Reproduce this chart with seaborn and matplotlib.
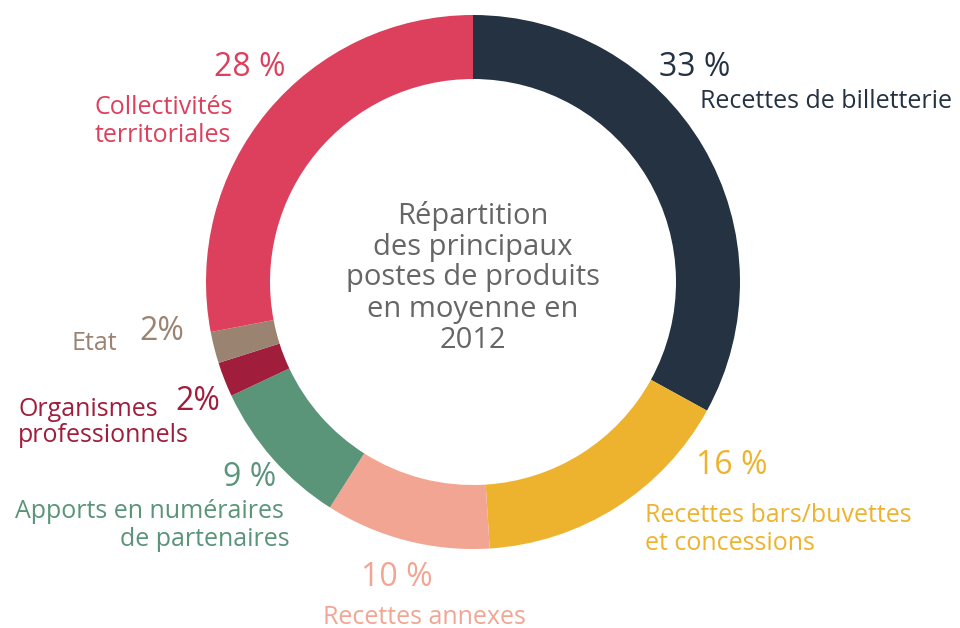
import matplotlib
matplotlib.use("Agg")
import matplotlib.pyplot as plt
import seaborn as sns

sns.set_theme(style="white")
plt.rcParams['font.family'] = ['Open Sans', 'DejaVu Sans']

categories = ["Recettes de billetterie", "Recettes bars/buvettes et concessions",
              "Recettes annexes", "Apports en numéraires de partenaires",
              "Organismes professionnels", "Etat", "Collectivités territoriales"]
values = [33, 16, 10, 9, 2.1, 1.9, 28]
pct_labels = ["33 %", "16 %", "10 %", "9 %", "2%", "2%", "28 %"]
colors = ["#243242", "#EEB32E", "#F2A593", "#5A9479", "#A01D3C", "#9A8370", "#DC405C"]
palette = sns.color_palette(colors)

fig = plt.figure(figsize=(9.6, 6.28), dpi=100)
ax = fig.add_axes([0, 0, 1, 1])
ax.set_xlim(0, 960)
ax.set_ylim(628, 0)
ax.axis("off")

pax = fig.add_axes([0, 0, 1, 1])
cx, cy, R = 473, 628 - 282, 267
pax.pie(values, colors=palette, startangle=90, counterclock=False,
        center=(cx, cy), radius=R, frame=True,
        wedgeprops=dict(width=64, edgecolor="none", linewidth=0))
pax.set_xlim(0, 960)
pax.set_ylim(0, 628)
pax.set_aspect("equal")
pax.axis("off")

pct_fs = 23
lab_fs = 18

ax.text(695, 68, pct_labels[0], color=colors[0], fontsize=pct_fs, ha="center", va="center")
ax.text(700, 102, "Recettes de billetterie", color=colors[0], fontsize=lab_fs, ha="left", va="center")

ax.text(732, 466, pct_labels[1], color=colors[1], fontsize=pct_fs, ha="center", va="center")
ax.text(645, 515, "Recettes bars/buvettes", color=colors[1], fontsize=lab_fs, ha="left", va="center")
ax.text(645, 543, "et concessions", color=colors[1], fontsize=lab_fs, ha="left", va="center")

ax.text(397, 578, pct_labels[2], color=colors[2], fontsize=pct_fs, ha="center", va="center")
ax.text(424, 617, "Recettes annexes", color=colors[2], fontsize=lab_fs, ha="center", va="center")

ax.text(250, 477, pct_labels[3], color=colors[3], fontsize=pct_fs, ha="center", va="center")
ax.text(284, 512, "Apports en numéraires", color=colors[3], fontsize=lab_fs, ha="right", va="center")
ax.text(290, 540, "de partenaires", color=colors[3], fontsize=lab_fs, ha="right", va="center")

ax.text(198, 402, pct_labels[4], color=colors[4], fontsize=pct_fs, ha="center", va="center")
ax.text(18, 410, "Organismes", color=colors[4], fontsize=lab_fs, ha="left", va="center")
ax.text(18, 436, "professionnels", color=colors[4], fontsize=lab_fs, ha="left", va="center")

ax.text(162, 332, pct_labels[5], color=colors[5], fontsize=pct_fs, ha="center", va="center")
ax.text(94, 343, "Etat", color=colors[5], fontsize=lab_fs, ha="center", va="center")

ax.text(250, 68, pct_labels[6], color=colors[6], fontsize=pct_fs, ha="center", va="center")
ax.text(95, 108, "Collectivités", color=colors[6], fontsize=lab_fs, ha="left", va="center")
ax.text(95, 136, "territoriales", color=colors[6], fontsize=lab_fs, ha="left", va="center")

center_lines = ["Répartition", "des principaux", "postes de produits", "en moyenne en", "2012"]
for i, line in enumerate(center_lines):
    ax.text(473, 216 + i * 31, line, color="#666666", fontsize=21, ha="center", va="center")

fig.savefig("out.png", dpi=100)
